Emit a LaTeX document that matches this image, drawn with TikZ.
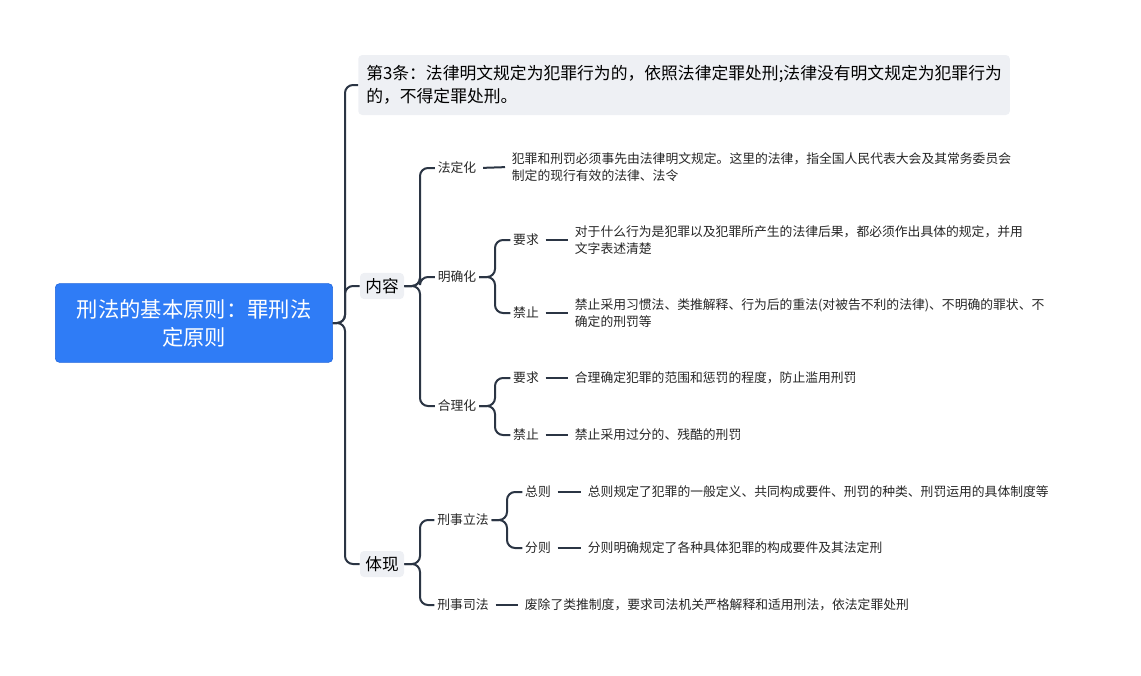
\documentclass[tikz,border=0pt]{standalone}
\usepackage{fontspec}
\newfontfamily\cjk{Noto Sans CJK SC}
\definecolor{lnc}{HTML}{2B3544}
\definecolor{boxc}{HTML}{EEF0F4}
\begin{document}
\begin{tikzpicture}[x=0.75pt,y=-0.75pt,
  every node/.style={font=\cjk},
  ln/.style={draw=lnc,line width=1.5pt,rounded corners=6pt},
  lf/.style={draw=lnc,line width=1.5pt,shorten <=3pt,shorten >=3pt},
  sm/.style={font=\cjk\fontsize{9.6}{12.5}\selectfont,inner sep=2pt,align=left,text=black!85},
  mid/.style={font=\cjk\fontsize{12.5}{15}\selectfont,fill=boxc,rounded corners=3pt,inner sep=4pt}]
\useasboundingbox (0,0) rectangle (1141,675);
\node[fill={rgb,255:red,47;green,124;blue,246},draw={rgb,255:red,30;green,100;blue,220},rounded corners=3pt,text=white,align=center,
  font=\cjk\fontsize{16}{21}\selectfont,minimum width=208pt,minimum height=59pt] (root) at (194,323) {刑法的基本原则：罪刑法\\定原则};
\node[fill=boxc,rounded corners=3pt,anchor=west,align=left,font=\cjk\fontsize{12.6}{17}\selectfont,minimum height=45pt,inner xsep=6pt] (law) at (358,85)
 {第3条：法律明文规定为犯罪行为的，依照法律定罪处刑;法律没有明文规定为犯罪行为\\的，不得定罪处刑。};
\node[mid] (nr) at (382,286) {内容};
\node[mid] (tx) at (382,564) {体现};
\draw[ln] (root.east) -- (345,323) |- (law.west);
\draw[ln] (root.east) -- (345,323) |- (nr.west);
\draw[ln] (root.east) -- (345,323) |- (tx.west);
% 内容
\node[sm] (fd) at (457,168) {法定化};
\node[sm] (mq) at (457,277) {明确化};
\node[sm] (hl) at (457,406) {合理化};
\foreach \c in {fd,mq,hl} \draw[ln] (nr.east) -- (420,286) |- (\c.west);
\node[sm,anchor=west] (fdt) at (509,167) {犯罪和刑罚必须事先由法律明文规定。这里的法律，指全国人民代表大会及其常务委员会\\制定的现行有效的法律、法令};
\draw[lf] (fd.east) -- (fdt.west);
\node[sm] (mq1) at (526,240) {要求};
\node[sm] (mq2) at (526,313) {禁止};
\foreach \c in {mq1,mq2} \draw[ln] (mq.east) -- (495,277) |- (\c.west);
\node[sm,anchor=west] (mq1t) at (572,240) {对于什么行为是犯罪以及犯罪所产生的法律后果，都必须作出具体的规定，并用\\文字表述清楚};
\node[sm,anchor=west] (mq2t) at (572,313) {禁止采用习惯法、类推解释、行为后的重法(对被告不利的法律)、不明确的罪状、不\\确定的刑罚等};
\draw[lf] (mq1.east) -- (mq1t.west);
\draw[lf] (mq2.east) -- (mq2t.west);
\node[sm] (hl1) at (526,378) {要求};
\node[sm] (hl2) at (526,435) {禁止};
\foreach \c in {hl1,hl2} \draw[ln] (hl.east) -- (495,406) |- (\c.west);
\node[sm,anchor=west] (hl1t) at (572,378) {合理确定犯罪的范围和惩罚的程度，防止滥用刑罚};
\node[sm,anchor=west] (hl2t) at (572,435) {禁止采用过分的、残酷的刑罚};
\draw[lf] (hl1.east) -- (hl1t.west);
\draw[lf] (hl2.east) -- (hl2t.west);
% 体现
\node[sm] (lf) at (463,520) {刑事立法};
\node[sm] (sf) at (463,605) {刑事司法};
\foreach \c in {lf,sf} \draw[ln] (tx.east) -- (420,564) |- (\c.west);
\node[sm] (zz) at (538,492) {总则};
\node[sm] (fz) at (538,548) {分则};
\foreach \c in {zz,fz} \draw[ln] (lf.east) -- (507,520) |- (\c.west);
\node[sm,anchor=west] (zzt) at (585,492) {总则规定了犯罪的一般定义、共同构成要件、刑罚的种类、刑罚运用的具体制度等};
\node[sm,anchor=west] (fzt) at (585,548) {分则明确规定了各种具体犯罪的构成要件及其法定刑};
\node[sm,anchor=west] (sft) at (522,605) {废除了类推制度，要求司法机关严格解释和适用刑法，依法定罪处刑};
\draw[lf] (zz.east) -- (zzt.west);
\draw[lf] (fz.east) -- (fzt.west);
\draw[lf] (sf.east) -- (sft.west);
\end{tikzpicture}
\end{document}
